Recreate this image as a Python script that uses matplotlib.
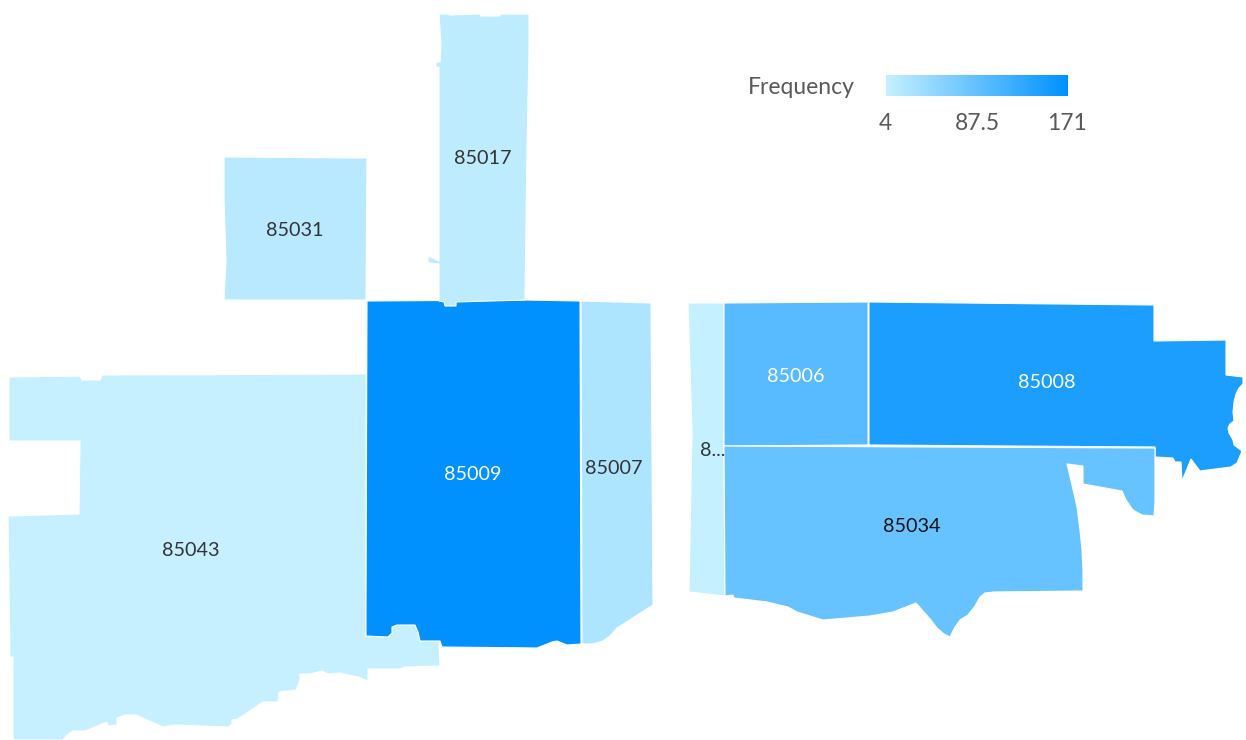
import numpy as np
import matplotlib
matplotlib.use("Agg")
import matplotlib.pyplot as plt
from matplotlib.colors import LinearSegmentedColormap, Normalize
from matplotlib.patches import Polygon

plt.rcParams['font.family'] = ['Lato', 'DejaVu Sans']

# zip code outlines, in map units (y grows downward)
zip_85043 = [(9, 377), (80, 376), (82, 380), (100, 380), (102, 375), (366, 374), (366, 636), (388, 637),
             (392, 633), (392, 627), (397, 625), (415, 625), (418, 632), (420, 641), (439, 641), (440, 666),
             (405, 667), (400, 669), (368, 669), (368, 681), (358, 677), (340, 673), (328, 674), (322, 671),
             (310, 674), (300, 674), (300, 680), (296, 690), (279, 692), (278, 702), (263, 702), (238, 719),
             (232, 720), (232, 724), (228, 727), (175, 725), (163, 727), (136, 715), (125, 715), (117, 718),
             (117, 725), (108, 726), (107, 722), (95, 727), (85, 731), (73, 731), (67, 735), (63, 740),
             (13, 740), (13, 657), (10, 657), (8, 516), (79, 514), (80, 441), (9, 441)]
zip_85009 = [(367, 301), (525, 300), (580, 301), (581, 644), (567, 645), (557, 641), (552, 642), (537, 648),
             (442, 647), (440, 641), (420, 641), (418, 632), (415, 625), (397, 625), (392, 627), (392, 633),
             (388, 637), (366, 636), (366, 610)]
zip_85007 = [(581, 301), (651, 303), (653, 605), (645, 610), (625, 623), (617, 628), (610, 636), (603, 641),
             (593, 644), (582, 644)]
zip_85017 = [(439, 14), (448, 14), (450, 15), (480, 14), (481, 16), (500, 16), (500, 14), (529, 14), (529, 50),
             (527, 150), (525, 300), (456, 302), (456, 306), (445, 306), (444, 302), (439, 301), (439, 264),
             (428, 263), (428, 256), (439, 261), (439, 67), (436, 67), (436, 62), (440, 62), (441, 45)]
zip_85031 = [(224, 157), (367, 158), (366, 300), (224, 300), (226, 260), (224, 200)]
zip_85003 = [(688, 303), (724, 303), (724, 446), (725, 596), (689, 592), (692, 430)]
zip_85006 = [(724, 303), (868, 302), (868, 445), (724, 446)]
zip_85008 = [(869, 302), (1154, 305), (1154, 341), (1226, 340), (1226, 375), (1243, 377), (1243, 384),
             (1239, 388), (1236, 394), (1234, 402), (1233, 412), (1234, 421), (1230, 424), (1228, 428),
             (1229, 433), (1233, 440), (1234, 445), (1242, 451), (1237, 463), (1231, 467), (1200, 471),
             (1191, 459), (1182, 481), (1181, 462), (1175, 462), (1173, 458), (1155, 457), (1155, 447),
             (869, 445)]
zip_85034 = [(724, 446), (1155, 448), (1155, 502), (1154, 516), (1142, 515), (1133, 510), (1126, 500),
             (1122, 491), (1083, 484), (1083, 466), (1067, 464), (1072, 485), (1077, 507), (1080, 530),
             (1082, 550), (1083, 570), (1083, 591), (994, 592), (985, 593), (980, 597), (975, 606), (968, 615),
             (960, 620), (955, 627), (950, 637), (944, 634), (937, 628), (931, 620), (916, 603), (893, 612),
             (870, 616), (823, 620), (797, 612), (788, 607), (767, 602), (734, 598), (733, 595), (725, 596)]

zip_shapes = [zip_85043, zip_85009, zip_85007, zip_85017, zip_85031, zip_85003, zip_85006, zip_85008, zip_85034]
zip_labels = ['85043', '85009', '85007', '85017', '85031', '8...', '85006', '85008', '85034']
frequency = [4, 171, 25, 11, 16, 5, 97, 147, 84]
label_x = [191, 473, 614, 483, 295, 713, 796, 1047, 912]
label_y = [551, 474, 469, 159, 230, 451, 376, 382, 526]
label_colors = ['#333333', 'white', '#333333', '#333333', '#333333', '#333333', 'white', 'white', '#111111']

scale_ticks = [4, 87.5, 171]
scale_labels = ['4', '87.5', '171']

cmap = LinearSegmentedColormap.from_list('freq', ['#C6F0FF', '#0091FF'])
norm = Normalize(min(scale_ticks), max(scale_ticks))

fig = plt.figure(figsize=(12.46, 7.40), dpi=100)
ax = fig.add_axes([0, 0, 1, 1])

for shape, freq in zip(zip_shapes, frequency):
    ax.add_patch(Polygon(shape, closed=True, facecolor=cmap(norm(freq)), edgecolor='white', linewidth=0.8))

for name, x, y, color in zip(zip_labels, label_x, label_y, label_colors):
    ax.text(x, y, name, ha='center', va='center', fontsize=14.2, color=color)

# frequency scale in the top right corner
bar_left, bar_right, bar_top, bar_bottom = 886, 1068, 75, 96
gradient = np.linspace(scale_ticks[0], scale_ticks[-1], 256).reshape(1, -1)
ax.imshow(gradient, cmap=cmap, norm=norm, aspect='auto', extent=(bar_left, bar_right, bar_bottom, bar_top))
ax.text(801, 88, 'Frequency', ha='center', va='center', fontsize=16.5, color='#595959')
for tick, text in zip([885, 977, 1067], scale_labels):
    ax.text(tick, 124, text, ha='center', va='center', fontsize=16.5, color='#595959')

ax.set_xlim(0, 1246)
ax.set_ylim(740, 0)
ax.axis('off')

fig.savefig('out.png', dpi=100, facecolor='white')
